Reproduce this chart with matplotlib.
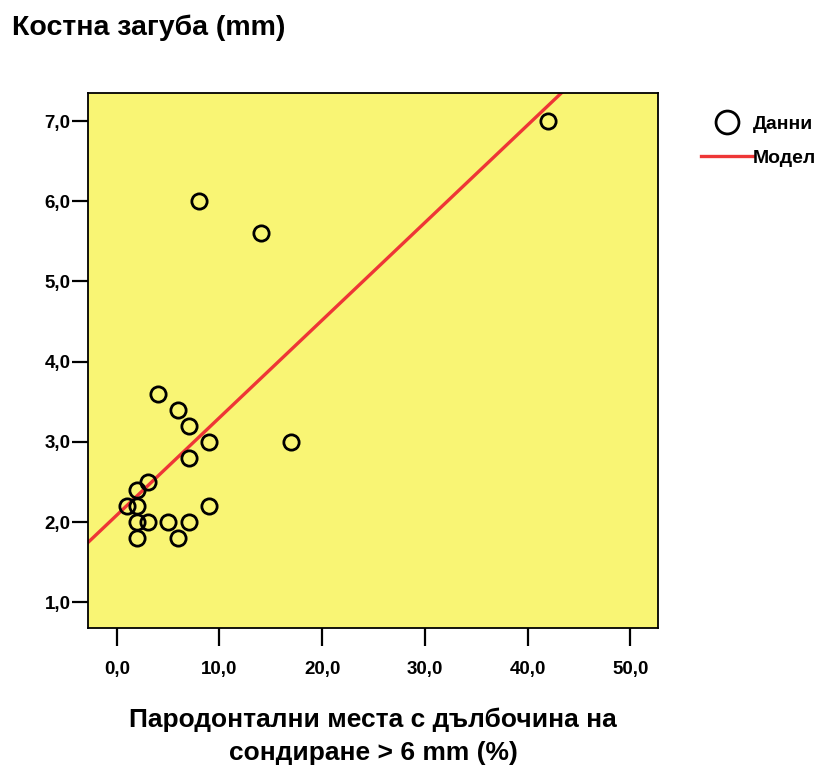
import numpy as np
import matplotlib.pyplot as plt

plt.rcParams['font.family'] = ['Liberation Sans', 'DejaVu Sans']
plt.rcParams['font.weight'] = 'bold'

# периодонтални места с дълбочина > 6 mm (%) и костна загуба (mm)
sites_pct = [1, 2, 2, 2, 2, 3, 3, 4, 5, 6, 6, 7, 7, 7, 8, 9, 9, 14, 17, 42]
bone_loss = [2.2, 2.4, 2.2, 2.0, 1.8, 2.5, 2.0, 3.6, 2.0, 3.4, 1.8, 3.2, 2.8, 2.0,
             6.0, 3.0, 2.2, 5.6, 3.0, 7.0]
xticks = [0, 10, 20, 30, 40, 50]
yticks = [1, 2, 3, 4, 5, 6, 7]

x = np.array(sites_pct, dtype=float)
y = np.array(bone_loss)
slope, intercept = np.polyfit(x, y, 1)

fig = plt.figure(figsize=(8.16, 7.69), dpi=100)
ax = fig.add_axes([88 / 816, 1 - 628 / 769, 570 / 816, 535 / 769])
ax.set_facecolor('#f9f574')

xs = np.array([-2.8, 52.7])
ax.plot(xs, intercept + slope * xs, color='#ee3636', lw=2.4, label='Модел', zorder=2)
ax.plot(x, y, 'o', mfc='none', mec='black', mew=2, ms=11, label='Данни', zorder=3)

ax.set_xlim(-2.8, 52.7)
ax.set_ylim(0.68, 7.35)
ax.set_xticks(xticks)
ax.set_yticks(yticks)
ax.set_xticklabels([f'{v:.1f}'.replace('.', ',') for v in xticks])
ax.set_yticklabels([f'{v:.1f}'.replace('.', ',') for v in yticks])
ax.tick_params(axis='x', length=13, width=1.6, labelsize=13.5, pad=11)
ax.tick_params(axis='y', length=11.5, width=1.6, labelsize=13.5, pad=1)
for s in ax.spines.values():
    s.set_linewidth(1.3)

ax.set_xlabel('Пародонтални места с дълбочина на\nсондиране > 6 mm (%)',
              fontsize=19, fontweight='bold', labelpad=21, linespacing=1.5)
fig.text(12 / 816, 1 - 28 / 769, 'Костна загуба (mm)', fontsize=20.5,
         fontweight='bold', va='center', ha='left')

h, l = ax.get_legend_handles_labels()
leg = ax.legend(h[::-1], l[::-1], loc='upper left', bbox_to_anchor=(1.075, 0.958),
                frameon=False, fontsize=14, handlelength=2.7, handletextpad=0.0,
                labelspacing=0.85, borderpad=0, borderaxespad=0, markerscale=1.5)

fig.savefig('out.png', dpi=100)
